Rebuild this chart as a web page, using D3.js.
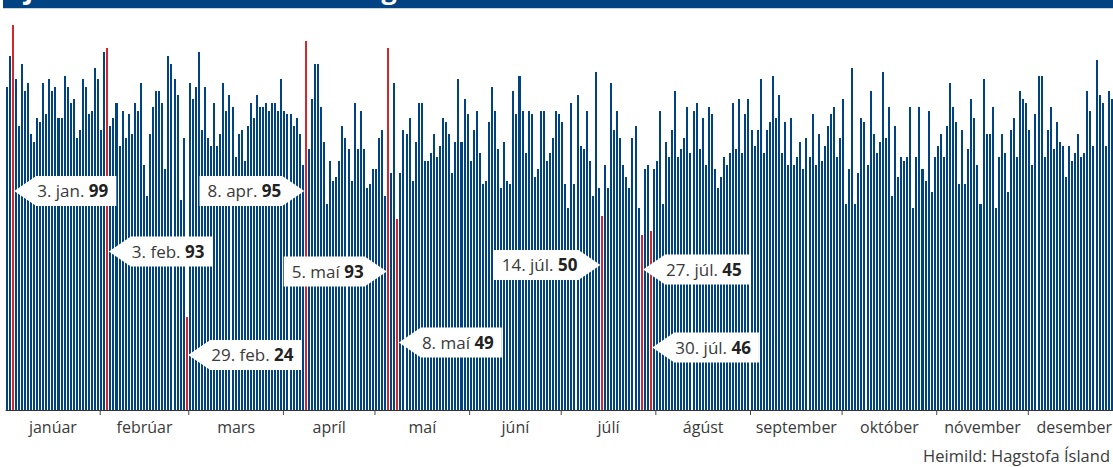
<!DOCTYPE html>
<html><head><meta charset="utf-8">
<script src="https://cdn.jsdelivr.net/npm/d3@7/dist/d3.min.js"></script>
<style>
html,body{margin:0;padding:0;background:#fff;overflow:hidden}
svg{display:block}
text{font-family:"Open Sans",sans-serif}
</style></head>
<body>
<svg id="chart" width="1113" height="467"></svg>
<script>
// ---- data ----
const year = 2024;
const monthNames = ["janúar","febrúar","mars","apríl","maí","júní","júlí","ágúst","september","október","nóvember","desember"];
const values = [
83,91,99,85,73,89,82,84,71,69,75,74,84,76,85,82,83,75,75,86,83,79,80,70,72,85,83,76,77,88,85,72,92,93,73,75,79,68,77,70,
76,71,79,77,84,63,55,71,78,82,82,79,62,91,89,85,81,54,70,24,84,80,83,92,72,83,70,68,79,68,71,84,77,81,78,65,71,72,64,73,
79,75,81,78,78,79,77,79,79,77,85,77,76,76,73,75,71,63,95,67,80,89,89,78,69,53,64,59,60,64,73,70,67,59,79,67,77,67,57,58,
62,62,70,72,55,93,61,84,49,61,72,71,75,59,69,79,79,64,64,66,71,65,68,75,74,71,61,69,85,69,80,76,64,72,77,66,58,59,74,83,
77,67,57,69,59,58,82,76,86,77,66,77,76,60,62,77,77,64,66,70,77,76,74,58,52,79,58,81,68,67,77,64,55,87,57,50,63,57,84,72,
77,70,63,60,57,70,73,52,45,62,63,46,62,64,77,53,69,65,72,82,65,67,70,78,66,77,79,67,75,63,78,76,62,57,60,65,63,66,79,67,
80,66,76,80,72,68,72,85,66,72,74,86,75,81,66,74,63,75,63,65,69,62,70,65,76,63,71,64,68,73,76,78,65,70,80,53,62,88,53,61,
75,74,63,82,71,66,69,87,70,78,55,73,60,65,64,65,78,52,65,78,62,59,77,56,65,68,71,65,73,84,78,74,58,72,58,67,80,75,63,53,
85,71,71,78,52,65,71,66,56,72,75,65,82,80,79,72,63,76,86,86,65,72,78,67,74,69,68,60,68,64,66,71,65,66,82,77,68,90,81,79,
68,82,80,78,76,74
];
const callouts = [
  {day:"2024-01-03", label:"3. jan.", value:99},
  {day:"2024-02-03", label:"3. feb.", value:93},
  {day:"2024-02-29", label:"29. feb.", value:24},
  {day:"2024-04-08", label:"8. apr.", value:95},
  {day:"2024-05-05", label:"5. maí", value:93},
  {day:"2024-05-08", label:"8. maí", value:49},
  {day:"2024-07-14", label:"14. júl.", value:50},
  {day:"2024-07-27", label:"27. júl.", value:45},
  {day:"2024-07-30", label:"30. júl.", value:46}
];
const source = "Heimild: Hagstofa Ísland";
const title = "Fjöldi fæddra barna eftir dögum";

// ---- layout (not data) ----
const calloutLayout = {
  "2024-01-03":{side:"right", cy:191},
  "2024-02-03":{side:"right", cy:251.5},
  "2024-02-29":{side:"right", cy:355},
  "2024-04-08":{side:"left",  cy:191},
  "2024-05-05":{side:"left",  cy:271.5},
  "2024-05-08":{side:"right", cy:342.5},
  "2024-07-14":{side:"left",  cy:265},
  "2024-07-27":{side:"right", cy:269.5},
  "2024-07-30":{side:"right", cy:347.5}
};

const svg = d3.select("#chart");
const W = 1113, H = 467;
const blue = "#004282", red = "#d7262b";
const fmt = d3.timeFormat("%Y-%m-%d");
const days = d3.timeDays(new Date(year,0,1), new Date(year+1,0,1));
const data = days.map((d,i)=>({date:d, key:fmt(d), value:values[i]}));
const hl = new Set(callouts.map(c=>c.day));

const step = 3.053, x0 = 5.07;
const x = d3.scaleBand().domain(data.map(d=>d.key))
  .range([x0, x0 + step*days.length]).paddingInner(0.34).paddingOuter(0.17);
const xt = d3.scaleTime().domain([new Date(year,0,1), new Date(year+1,0,1)])
  .range([x0, x0 + step*days.length]);
const y = d3.scaleLinear().domain([0,100]).range([410, 21.1]);

// header band with clipped title
const defs = svg.append("defs");
defs.append("clipPath").attr("id","hdr").append("rect").attr("x",3).attr("y",0).attr("width",W-3).attr("height",8);
svg.append("rect").attr("x",3).attr("y",0).attr("width",W-3).attr("height",8).attr("fill",blue);
svg.append("text").attr("x",10).attr("y",-1).attr("fill","#fff").attr("clip-path","url(#hdr)")
  .attr("font-size",27).attr("font-weight",700).text(title);
svg.append("rect").attr("x",3).attr("y",8).attr("width",W-3).attr("height",1).attr("fill","#c9d4e2");

// axis line + month ticks
const axisG = svg.append("g").attr("transform","translate(0,410)");
const monthStarts = d3.timeMonths(new Date(year,1,1), new Date(year,11,2));
axisG.call(d3.axisBottom(xt).tickValues(monthStarts).tickSize(5).tickSizeOuter(0).tickFormat(""))
  .call(g=>g.select(".domain").attr("stroke","#333").attr("stroke-width",1.2))
  .call(g=>g.selectAll(".tick line").attr("stroke","#444"));

// month labels
const monthMid = d3.timeMonths(new Date(year,0,1), new Date(year+1,0,1))
  .map(m=>new Date((+m + +d3.timeMonth.offset(m,1))/2));
const labG = svg.append("g").attr("transform","translate(0,410)");
labG.call(d3.axisBottom(xt).tickValues(monthMid).tickSize(0).tickPadding(12)
    .tickFormat((d,i)=>monthNames[i]))
  .call(g=>g.select(".domain").remove())
  .call(g=>g.selectAll("text").attr("font-size",16).attr("fill","#3a3a3a")
       .attr("font-family","'Open Sans',sans-serif"));
// keep the last label inside the picture, as in the reference
labG.selectAll(".tick").filter((d,i)=>i===11).select("text")
  .attr("text-anchor","end").attr("x", function(){ return 0; })
  .each(function(){
    const tr = d3.select(this.parentNode).attr("transform");
    const cx = +tr.match(/translate\(([-\d.]+)/)[1];
    d3.select(this).attr("x", (W-1) - cx);
  });

// bars
svg.append("g").attr("shape-rendering","crispEdges").selectAll("rect").data(data).join("rect")
  .attr("x",d=>x(d.key)).attr("width",x.bandwidth())
  .attr("y",d=>y(d.value)).attr("height",d=>y(0)-y(d.value))
  .attr("fill",d=>hl.has(d.key)?red:blue);

// callouts
const cg = svg.append("g");
callouts.forEach(c=>{
  const lay = calloutLayout[c.day];
  const cx = x(c.day) + x.bandwidth()/2;
  const g = cg.append("g");
  const t = g.append("text").attr("font-size",17).attr("fill","#3a3a3a");
  t.append("tspan").text(c.label + " ");
  t.append("tspan").attr("font-weight",700).attr("fill","#222").text(c.value);
  const tw = t.node().getComputedTextLength();
  const hh = 15, pw = 22;
  let pts, tx;
  if(lay.side==="right"){
    const tip = cx + 1.5;
    const b = tip + pw, e = b + tw + 9;
    pts = [[tip,lay.cy],[b,lay.cy-hh],[e,lay.cy-hh],[e,lay.cy+hh],[b,lay.cy+hh]];
    tx = b + 1;
  } else {
    const tip = cx - 1.5;
    const b = tip - pw, s = b - tw - 9;
    pts = [[tip,lay.cy],[b,lay.cy+hh],[s,lay.cy+hh],[s,lay.cy-hh],[b,lay.cy-hh]];
    tx = s + 8;
  }
  g.insert("path","text").attr("d", d3.line()(pts)+"Z").attr("fill","#fff");
  t.attr("x",tx).attr("y",lay.cy+6);
});

// source
svg.append("text").attr("x",1110).attr("y",462).attr("text-anchor","end")
  .attr("font-size",16.5).attr("fill","#3a3a3a").text(source);
</script>
</body></html>
